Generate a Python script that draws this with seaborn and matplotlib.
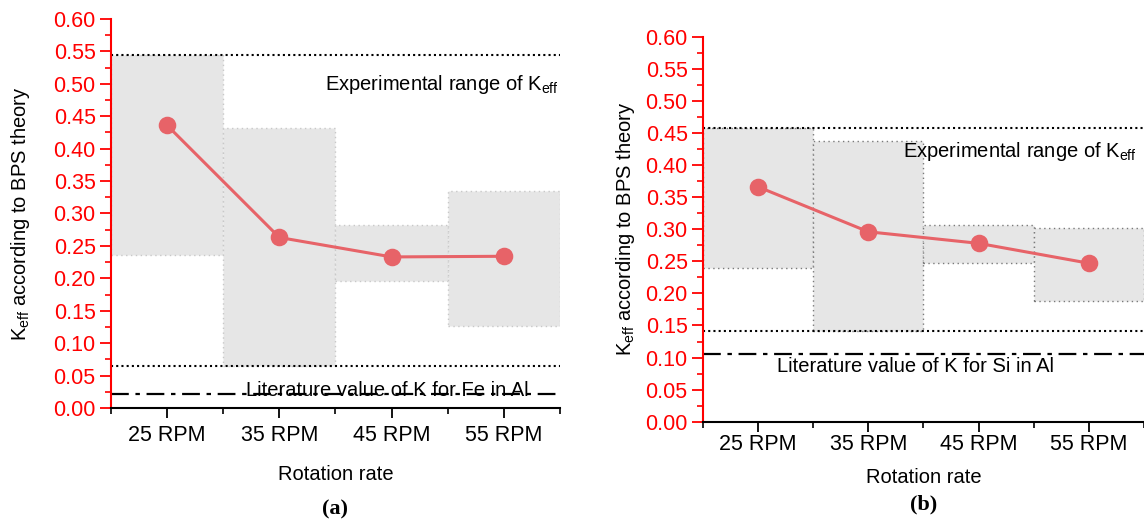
import numpy as np
import pandas as pd
import matplotlib
matplotlib.use("Agg")
import matplotlib.pyplot as plt
from matplotlib.ticker import MultipleLocator, FixedLocator
import seaborn as sns

# ---- data -------------------------------------------------------------
rpm_labels = ["25 RPM", "35 RPM", "45 RPM", "55 RPM"]

# panel (a): Fe in Al
keff_a = [0.436, 0.263, 0.233, 0.234]
range_low_a = [0.236, 0.064, 0.196, 0.127]
range_high_a = [0.545, 0.432, 0.282, 0.334]
exp_lines_a = [0.545, 0.064]
lit_k_a = 0.022
lit_text_a = "Literature value of K for Fe in Al"

# panel (b): Si in Al
keff_b = [0.366, 0.296, 0.278, 0.247]
range_low_b = [0.239, 0.142, 0.248, 0.188]
range_high_b = [0.458, 0.438, 0.306, 0.302]
exp_lines_b = [0.458, 0.142]
lit_k_b = 0.105
lit_text_b = "Literature value of K for Si in Al"

y_ticks = [0.00, 0.05, 0.10, 0.15, 0.20, 0.25, 0.30, 0.35, 0.40, 0.45, 0.50, 0.55, 0.60]

# ---- style ------------------------------------------------------------
sns.set_style("ticks")
plt.rcParams["font.family"] = ["Liberation Sans", "DejaVu Sans"]
plt.rcParams["mathtext.default"] = "regular"
plt.rcParams["text.color"] = "black"
plt.rcParams["axes.labelcolor"] = "black"

LINE_RED = "#e76368"
AXIS_RED = "#ff0000"
BOX_FILL = "#e6e6e6"

fig = plt.figure(figsize=(11.44, 5.2), dpi=100)
ax_a = fig.add_axes([0.0970, 0.2154, 0.3925, 0.7481])
ax_b = fig.add_axes([0.6145, 0.1890, 0.3855, 0.7404])


def draw_panel(ax, keff, lo, hi, exp_lines, lit_k, lit_text, box_edge,
               exp_xy, lit_xy, tag, tag_y, xtick_pad, xlabel_pad, ylabel_pad):
    x = np.arange(len(rpm_labels))
    lo = np.asarray(lo)
    hi = np.asarray(hi)
    # experimental range boxes
    ax.bar(x, hi - lo, bottom=lo, width=1.0, color=BOX_FILL,
           edgecolor=box_edge, linewidth=1.0, linestyle=(0, (1, 2.5)), zorder=1)
    # experimental range limits and literature value
    for yv in exp_lines:
        ax.axhline(yv, color="black", lw=1.5, ls=(0, (1, 1.5)), zorder=2)
    ax.axhline(lit_k, color="black", lw=1.6, ls=(0, (8, 3, 2, 3)), zorder=2)

    df = pd.DataFrame({"rpm": rpm_labels, "keff": keff})
    sns.pointplot(data=df, x="rpm", y="keff", color=LINE_RED, markersize=11,
                  linewidth=2.2, ax=ax, zorder=4)

    ax.set_xlim(-0.5, 3.5)
    ax.set_ylim(0, 0.6)
    ax.yaxis.set_major_locator(FixedLocator(y_ticks))
    ax.set_yticklabels([f"{t:.2f}" for t in y_ticks])
    ax.yaxis.set_minor_locator(MultipleLocator(0.025))
    ax.xaxis.set_minor_locator(FixedLocator([-0.5, 0.5, 1.5, 2.5, 3.5]))

    sns.despine(ax=ax)
    ax.spines["left"].set_color(AXIS_RED)
    ax.spines["left"].set_linewidth(1.5)
    ax.spines["bottom"].set_color("black")
    ax.spines["bottom"].set_linewidth(1.5)

    ax.tick_params(axis="y", which="major", colors=AXIS_RED, length=8, width=1.3,
                   labelsize=15.5, pad=3)
    ax.tick_params(axis="y", which="minor", colors=AXIS_RED, length=4, width=1.2)
    ax.tick_params(axis="x", which="major", colors="black", length=7, width=1.3,
                   labelsize=15.5, pad=xtick_pad)
    ax.tick_params(axis="x", which="minor", colors="black", length=4, width=1.2)

    ax.set_xlabel("Rotation rate", fontsize=14.5, labelpad=xlabel_pad)
    ax.set_ylabel(r"K$_{eff}$ according to BPS theory", fontsize=14.5,
                  labelpad=ylabel_pad)

    ax.text(exp_xy[0], exp_xy[1], r"Experimental range of K$_{eff}$",
            fontsize=14.5, ha="left", va="baseline", zorder=5)
    ax.text(lit_xy[0], lit_xy[1], lit_text, fontsize=14.5, ha="left",
            va="baseline", zorder=5)
    ax.text(0.5, tag_y, tag, transform=ax.transAxes, ha="center", va="center",
            fontsize=16, fontweight="bold", family=["Liberation Serif", "DejaVu Serif"])


draw_panel(ax_a, keff_a, range_low_a, range_high_a, exp_lines_a, lit_k_a,
           lit_text_a, "#c8c8c8", (1.41, 0.490), (0.70, 0.019), "(a)", -0.26,
           xtick_pad=5, xlabel_pad=14, ylabel_pad=15)
draw_panel(ax_b, keff_b, range_low_b, range_high_b, exp_lines_b, lit_k_b,
           lit_text_b, "#7a7a7a", (1.31, 0.412), (0.17, 0.077), "(b)", -0.216,
           xtick_pad=2, xlabel_pad=9, ylabel_pad=6)

fig.savefig("out.png", dpi=100)
